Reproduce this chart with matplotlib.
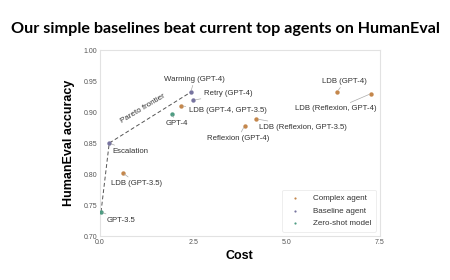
import matplotlib
matplotlib.use("Agg")
import matplotlib.pyplot as plt

# data
names = ["GPT-3.5", "GPT-4", "Escalation", "Warming (GPT-4)", "Retry (GPT-4)",
         "LDB (GPT-4, GPT-3.5)", "LDB (GPT-3.5)", "Reflexion (GPT-4)",
         "LDB (Reflexion, GPT-3.5)", "LDB (GPT-4)", "LDB (Reflexion, GPT-4)"]
costs = [0.03, 1.92, 0.25, 2.43, 2.50, 2.17, 0.61, 3.88, 4.19, 6.36, 7.27]
accs = [0.739, 0.897, 0.850, 0.932, 0.919, 0.910, 0.802, 0.878, 0.889, 0.933, 0.930]
kinds = ["zero", "zero", "base", "base", "base", "complex", "complex",
         "complex", "complex", "complex", "complex"]
frontier = ["GPT-3.5", "Escalation", "Warming (GPT-4)"]

kind_labels = {"complex": "Complex agent", "base": "Baseline agent", "zero": "Zero-shot model"}
colors = {"complex": "#c4874c", "base": "#77749f", "zero": "#4e9c82"}

# label offsets in points (dx, dy, ha)
offsets = {
    "GPT-3.5": (4, -6, "left"),
    "GPT-4": (-4, -7, "left"),
    "Escalation": (2.5, -6, "left"),
    "Warming (GPT-4)": (3, 9.5, "center"),
    "Retry (GPT-4)": (7.5, 5, "left"),
    "LDB (GPT-4, GPT-3.5)": (5.5, -3.5, "left"),
    "LDB (GPT-3.5)": (-8.5, -7.5, "left"),
    "Reflexion (GPT-4)": (-5, -9, "center"),
    "LDB (Reflexion, GPT-3.5)": (2, -6, "left"),
    "LDB (GPT-4)": (5.5, 7.5, "center"),
    "LDB (Reflexion, GPT-4)": (-25.5, -11, "center"),
}

plt.rcParams['font.family'] = ['Liberation Sans', 'DejaVu Sans']

fig = plt.figure(figsize=(4.5, 2.8), dpi=100)
ax = fig.add_axes([0.222, 0.157, 0.622, 0.664])

fx = [costs[names.index(n)] for n in frontier]
fy = [accs[names.index(n)] for n in frontier]
ax.plot(fx, fy, ls=(0, (4, 2.5)), color="#555555", lw=0.7, zorder=1)

for k in ["complex", "base", "zero"]:
    xs = [c for c, kk in zip(costs, kinds) if kk == k]
    ys = [a for a, kk in zip(accs, kinds) if kk == k]
    ax.scatter(xs, ys, s=10, color=colors[k], label=kind_labels[k], zorder=3, linewidths=0)

for n, c, a in zip(names, costs, accs):
    dx, dy, ha = offsets[n]
    ax.annotate(n, (c, a), xytext=(dx, dy), textcoords="offset points",
                ha=ha, va="center", fontsize=5.6, color="#333333",
                arrowprops=dict(arrowstyle="-", color="#aaaaaa", lw=0.5,
                                shrinkA=0, shrinkB=1.5))

ax.text(1.15, 0.905, "Pareto frontier", rotation=31, fontsize=5.8, color="#333333",
        ha="center", va="center")

ax.set_xlim(0, 7.5)
ax.set_ylim(0.70, 1.00)
ax.set_xticks([0.0, 2.5, 5.0, 7.5])
ax.set_yticks([0.70, 0.75, 0.80, 0.85, 0.90, 0.95, 1.00])
ax.tick_params(labelsize=5, colors="#555555", length=0, pad=2)
for sp in ax.spines.values():
    sp.set_color("#e2e2e2")
    sp.set_linewidth(0.8)

ax.set_xlabel("Cost", fontsize=9, fontweight="bold", labelpad=3)
ax.set_ylabel("HumanEval accuracy", fontsize=9, fontweight="bold", labelpad=6)

leg = ax.legend(loc="lower right", fontsize=5.8, frameon=True, markerscale=0.5,
                handletextpad=1.2, borderpad=0.6, labelspacing=0.6)
leg.get_frame().set_edgecolor("#e6e6e6")
leg.get_frame().set_linewidth(0.6)
for t in leg.get_texts():
    t.set_color("#333333")

fig.text(0.5, 1 - 29 / 280, "Our simple baselines beat current top agents on HumanEval",
         ha="center", va="center", fontsize=11.6, fontweight="bold",
         family=["Lato", "DejaVu Sans"])

fig.savefig("out.png", dpi=100)
